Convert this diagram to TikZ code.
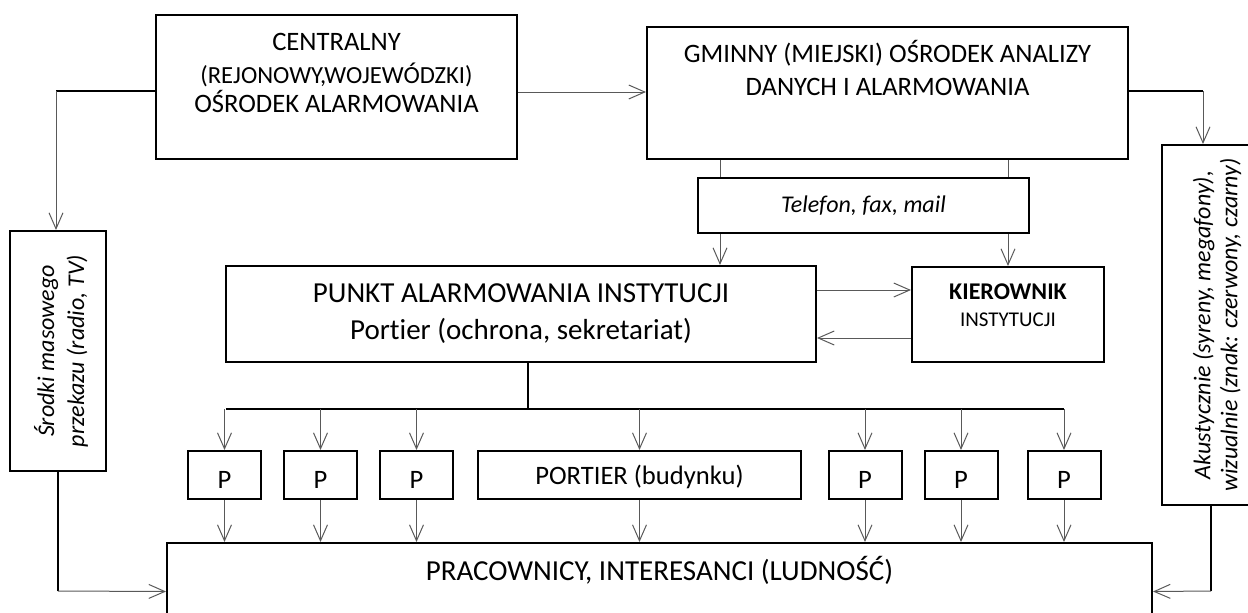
\documentclass[tikz,border=0pt]{standalone}
\usepackage{fontspec}
\setmainfont{Carlito}[Ligatures=NoCommon]
\usepackage{tikz}
\usetikzlibrary{arrows.meta}

\tikzset{
  blok/.style={draw,line width=1pt,fill=white,inner sep=0pt},
  strz/.style={draw=black!65,line width=0.5pt,-{Straight Barb[length=8pt,width=7pt]}},
  gruby/.style={draw,line width=1pt},
  napis/.style={inner sep=0pt,text height=1.38ex,text depth=0pt},
}

\begin{document}
\begin{tikzpicture}[x=0.5pt,y=-0.5pt]
\useasboundingbox (0,0) rectangle (1248,612);
\node[blok,minimum width=180.5pt,minimum height=72pt] (central) at (336.5,87) {};
\node[blok,minimum width=240.5pt,minimum height=66pt] (gminny) at (887.5,93) {};
\node[blok,minimum width=295pt,minimum height=48pt] (punkt) at (521,314) {};
\node[blok,minimum width=96pt,minimum height=47.5pt] (kier) at (1008,314.5) {};
\node[blok,minimum width=48pt,minimum height=120pt] (media) at (58,351) {};
\node[blok,minimum width=54pt,minimum height=180pt] (akust) at (1216,325) {};
\node[blok,minimum width=492.5pt,minimum height=48.5pt] (ludnosc) at (659.5,591.5) {};
\node[blok,minimum width=161.5pt,minimum height=24pt] (portier) at (639.5,475) {};
\foreach \x [count=\i] in {224.5,320.5,416.5,865,961,1064}
  \node[blok,minimum width=36.5pt,minimum height=24pt] (p\i) at (\x,475) {};

\node[napis,font=\fontsize{13.3}{16}\selectfont] (c1) at (336.5,44) {CENTRALNY};
\node[napis,font=\fontsize{12.3}{14}\selectfont] (c2) at (336.5,77) {(REJONOWY,WOJEWÓDZKI)};
\node[napis,font=\fontsize{13.3}{16}\selectfont] (c3) at (336.5,106) {OŚRODEK ALARMOWANIA};
\node[napis,font=\fontsize{13.3}{16}\selectfont] (g1) at (887.5,55.5) {GMINNY (MIEJSKI) OŚRODEK ANALIZY};
\node[napis,font=\fontsize{13.3}{16}\selectfont] (g2) at (887.5,89) {DANYCH I ALARMOWANIA};
\node[napis,font=\fontsize{14.5}{17}\selectfont] (pk1) at (521,296) {PUNKT ALARMOWANIA INSTYTUCJI};
\node[napis,font=\fontsize{14.5}{17}\selectfont] (pk2) at (521,333) {Portier (ochrona, sekretariat)};
\node[napis,font=\bfseries\fontsize{12}{14}\selectfont] (k1) at (1008,292.5) {KIEROWNIK};
\node[napis,font=\fontsize{10.5}{13}\selectfont] (k2) at (1008,320) {INSTYTUCJI};
\node[napis,font=\fontsize{13.3}{16}\selectfont] (pt0) at (639.5,478) {PORTIER (budynku)};
\foreach \i in {1,...,6}
  \node[napis,font=\fontsize{13.3}{16}\selectfont] (pt\i) at ([yshift=-3.5pt]p\i.center) {P};
\node[napis,font=\fontsize{14.5}{17}\selectfont] (l1) at (659.5,574) {PRACOWNICY, INTERESANCI (LUDNOŚĆ)};
\node[rotate=90,align=center,font=\itshape\fontsize{12}{15}\selectfont] (m1) at (61,351) {Środki masowego\\przekazu (radio, TV)};
\node[rotate=90,align=center,font=\itshape\fontsize{12}{13.5}\selectfont] (a1) at (1217,325) {Akustycznie (syreny, megafony),\\wizualnie (znak: czerwony, czarny)};

\coordinate (lg) at (56,91);
\coordinate (pg) at (1203,91);
\draw[strz] (central.east |- 0,92) -- (gminny.west |- 0,92);
\draw[gruby] (central.west |- lg) -- (lg);
\draw[strz] (lg) -- (lg |- media.north);
\draw[gruby] (gminny.east |- pg) -- (pg);
\draw[strz] (pg) -- (pg |- akust.north);
\draw[strz] (gminny.south -| 720,0) -- (punkt.north -| 720,0);
\draw[strz] (gminny.south -| kier.north) -- (kier.north);
\draw[strz] (punkt.east |- 0,290) -- (kier.west |- 0,290);
\draw[strz] (kier.west |- 0,338) -- (punkt.east |- 0,338);
\node[blok,minimum width=165.5pt,minimum height=27.5pt,font=\itshape\fontsize{12}{14}\selectfont] (tel) at (863.5,205.5) {Telefon, fax, mail};

% rozgalezienie do portierow
\coordinate (rozg) at (528,409);
\coordinate (szyna1) at (226,409);
\draw[gruby] (punkt.south -| rozg) -- (rozg);
\draw[gruby] (szyna1) -- (szyna1 -| p6.north);
\foreach \i in {1,...,6} {
  \draw[strz] (szyna1 -| p\i.north) -- (p\i.north);
  \draw[strz] (p\i.south) -- (p\i.south |- ludnosc.north);
}
\draw[strz] (szyna1 -| portier.north) -- (portier.north);
\draw[strz] (portier.south) -- (portier.south |- ludnosc.north);

\coordinate (ld) at (58,591);
\coordinate (pd) at (1211,591);
\draw[gruby] (media.south) -- (ld);
\draw[strz] (ld) -- (ludnosc.west);
\draw[gruby] (akust.south -| pd) -- (pd);
\draw[strz] (pd) -- (ludnosc.east);
\end{tikzpicture}
\end{document}
